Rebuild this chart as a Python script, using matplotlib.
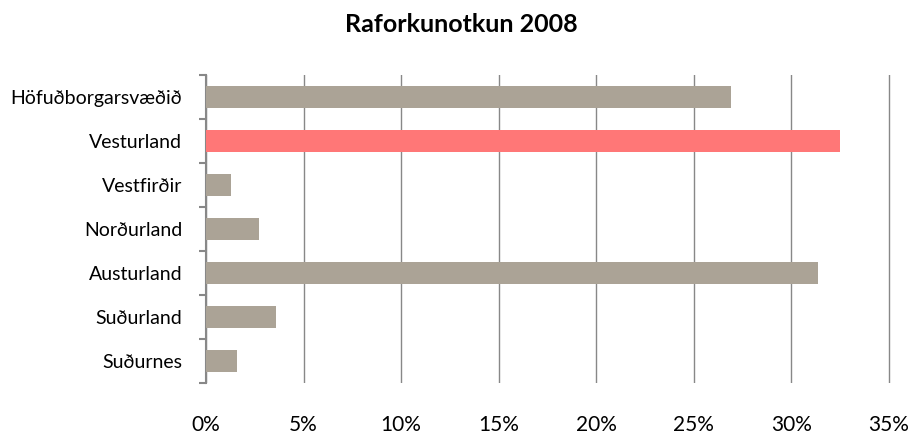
import numpy as np
import matplotlib
matplotlib.use("Agg")
import matplotlib.pyplot as plt
from matplotlib.ticker import FixedLocator

# ----------------------------
# DATA
# ----------------------------
regions = ["Höfuðborgarsvæðið", "Vesturland", "Vestfirðir", "Norðurland",
           "Austurland", "Suðurland", "Suðurnes"]
share = [26.9, 32.5, 1.27, 2.73, 31.4, 3.6, 1.6]   # % of electricity use
highlight = "Vesturland"
x_ticks = [0, 5, 10, 15, 20, 25, 30, 35]

# ----------------------------
# STYLE
# ----------------------------
plt.rcParams["font.family"] = ["Lato", "DejaVu Sans"]
bar_gray = "#aba396"
bar_red = "#ff7777"
axis_gray = "#888888"

# small margin past 35% so the last gridline is not clipped
x_max = 35.1
px_per_unit = (888.7 - 206) / 35

fig = plt.figure(figsize=(9.15, 4.38), dpi=100)
ax = fig.add_axes([206 / 915, 1 - 383 / 438, px_per_unit * x_max / 915, (383 - 75) / 438])

y = np.arange(len(regions))
colors = [bar_red if r == highlight else bar_gray for r in regions]
ax.barh(y, share, height=0.5, color=colors, zorder=3)

ax.set_xlim(0, x_max)
ax.set_ylim(len(regions) - 0.5, -0.5)

ax.set_xticks(x_ticks)
ax.set_xticklabels([f"{t}%" for t in x_ticks])
ax.tick_params(axis="x", length=0, pad=23, labelsize=15)

ax.set_yticks(y)
ax.set_yticklabels(regions)
ax.tick_params(axis="y", which="major", length=0, pad=17, labelsize=14)
ax.yaxis.set_minor_locator(FixedLocator(np.arange(-0.5, len(regions), 1.0)))
ax.tick_params(axis="y", which="minor", length=5, width=1.5, color=axis_gray)

for s in ["top", "right", "bottom"]:
    ax.spines[s].set_visible(False)
ax.spines["left"].set_color(axis_gray)
ax.spines["left"].set_linewidth(1.5)

ax.grid(axis="x", color=axis_gray, linewidth=1, zorder=0)
ax.grid(axis="y", visible=False)

fig.text(0.5 * (336.7 + 585) / 915, 1 - 25 / 438, "Raforkunotkun 2008",
         ha="center", va="center", fontsize=18, fontweight="bold")

fig.savefig("out.png", dpi=100)
